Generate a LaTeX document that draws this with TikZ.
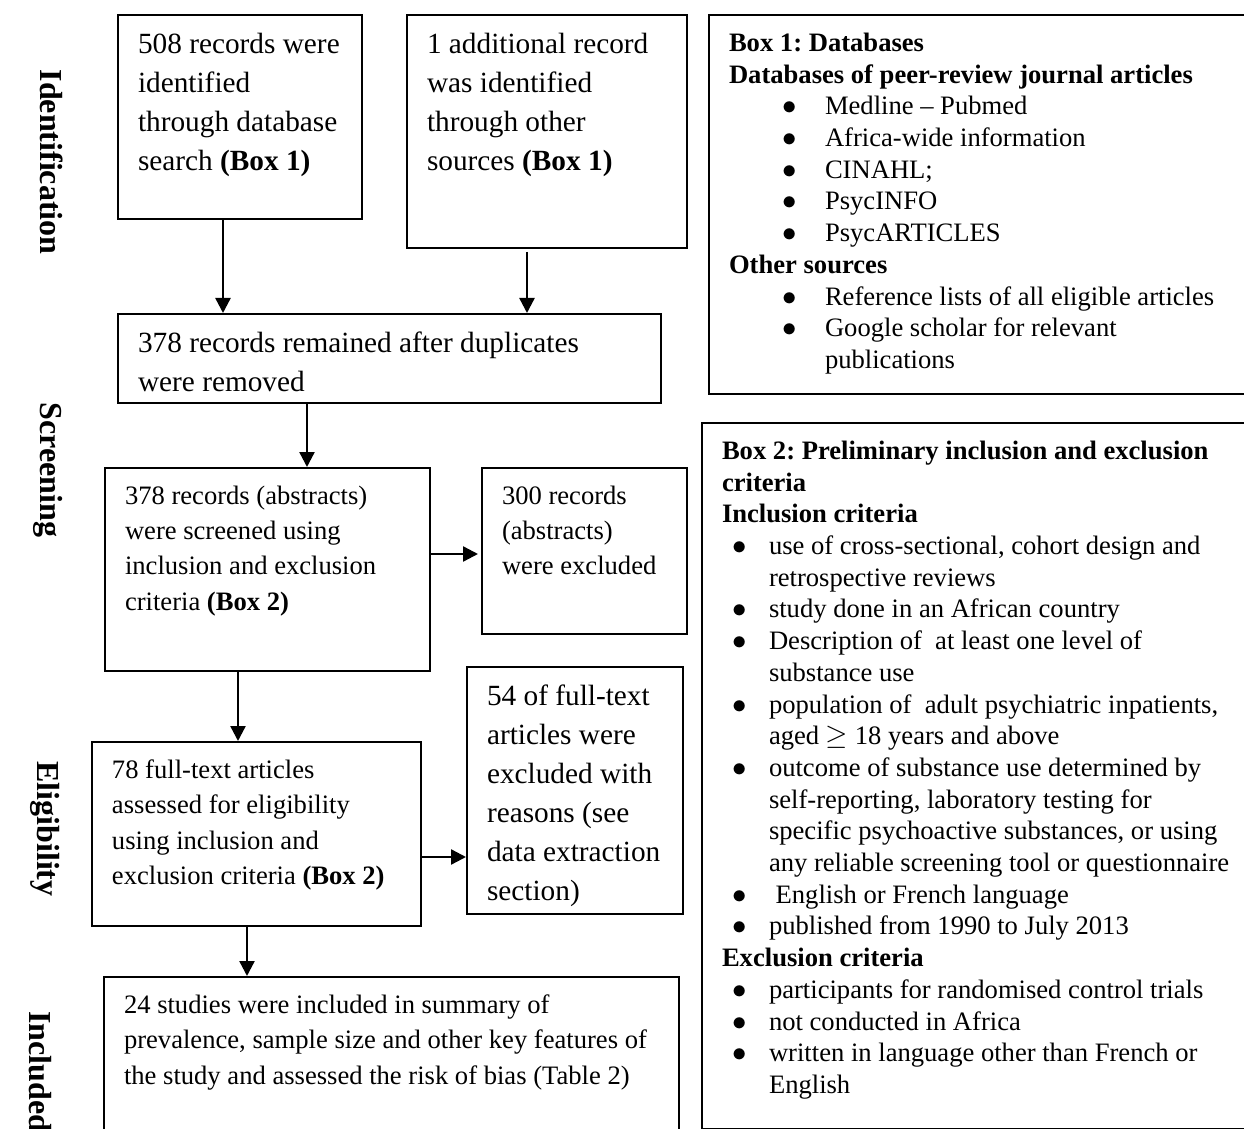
\documentclass[tikz,border=0pt]{standalone}
\usepackage{fontspec}
\setmainfont{Liberation Serif}
\usetikzlibrary{arrows.meta}
\frenchspacing

\newcommand{\bigsz}{\fontsize{14.65pt}{19.5pt}\selectfont}
\newcommand{\midsz}{\fontsize{13.3pt}{17.6pt}\selectfont}
\newcommand{\listsz}{\fontsize{13.3pt}{15.85pt}\selectfont}
\newcommand{\fbtext}[3]{\parbox[t][#2][t]{#1}{\raggedright #3}}
\newcommand{\dbitem}[1]{\par\hangindent=48pt\hangafter=1\noindent\makebox[48pt][l]{\hspace{26.7pt}$\bullet$}#1}
\newcommand{\critem}[1]{\par\hangindent=23.5pt\hangafter=1\noindent\makebox[23.5pt][l]{\hspace{5.2pt}$\bullet$}#1}

\begin{document}
\begin{tikzpicture}[x=0.5pt,y=-0.5pt,
  flow/.style={draw,line width=1pt,anchor=north west,inner xsep=10pt,inner ysep=9pt},
  arr/.style={line width=1.2pt,-{Triangle[length=7.5pt,width=7.5pt]}},
  stage/.style={rotate=-90,anchor=base,font=\fontsize{16pt}{19pt}\selectfont\bfseries}]
\useasboundingbox (0,0) rectangle (1244,1129);

% stages
\node[stage] (stgident) at (40,162) {Identification};
\node[stage] (stgscreen) at (40,470) {Screening};
\node[stage] (stgelig) at (37,829) {Eligibility};
\node[stage] (stgincl) at (30,1072) {Included};

% flow
\node[flow,font=\bigsz] (found) at (117,14) {\fbtext{102pt}{84pt}{508 records were\\identified\\through database\\search \textbf{(Box 1)}}};
\node[flow,font=\bigsz] (other) at (406,14) {\fbtext{120pt}{98.5pt}{1 additional record\\was identified\\through other\\sources \textbf{(Box 1)}}};
\node[flow,font=\bigsz] (dedup) at (117,313) {\fbtext{251.5pt}{26.5pt}{378 records remained after duplicates\\were removed}};
\node[flow,font=\midsz] (screened) at (104,467) {\fbtext{142.5pt}{83.5pt}{378 records (abstracts)\\were screened using\\inclusion and exclusion\\criteria \textbf{(Box 2)}}};
\node[flow,font=\midsz] (excl) at (481,467) {\fbtext{82.5pt}{65pt}{300 records\\(abstracts)\\were excluded}};
\node[flow,font=\midsz] (full) at (91,741) {\fbtext{144.5pt}{74pt}{78 full-text articles\\assessed for eligibility\\using inclusion and\\exclusion criteria \textbf{(Box 2)}}};
\node[flow,font=\bigsz] (fullexcl) at (466,666) {\fbtext{88pt}{105.5pt}{54 of full-text\\articles were\\excluded with\\reasons (see\\data extraction\\section)}};
\node[flow,font=\midsz] (studies) at (103,976) {\fbtext{267.5pt}{64pt}{24 studies were included in summary of\\prevalence, sample size and other key features of\\the study and assessed the risk of bias (Table 2)}};

% boxes
\node[flow,font=\listsz] (box1) at (708,14) {\fbtext{251pt}{171.5pt}{\textbf{Box 1: Databases}\\\textbf{Databases of peer-review journal articles}\dbitem{Medline -- Pubmed}\dbitem{Africa-wide information}\dbitem{CINAHL;}\dbitem{PsycINFO}\dbitem{PsycARTICLES}\par\textbf{Other sources}\dbitem{Reference lists of all eligible articles}\dbitem{Google scholar for relevant\newline publications}}};
\node[flow,font=\listsz] (box2) at (701,422) {\fbtext{260.5pt}{335pt}{\textbf{Box 2: Preliminary inclusion and exclusion\\criteria}\\\textbf{Inclusion criteria}\critem{use of cross-sectional, cohort design and\newline retrospective reviews}\critem{study done in an African country}\critem{Description of~ at least one level of\newline substance use}\critem{population of~ adult psychiatric inpatients,\newline aged $\geq$ 18 years and above}\critem{outcome of substance use determined by\newline self-reporting, laboratory testing for\newline specific psychoactive substances, or using\newline any reliable screening tool or questionnaire}\critem{\ English or French language}\critem{published from 1990 to July 2013}\par\textbf{Exclusion criteria}\critem{participants for randomised control trials}\critem{not conducted in Africa}\critem{written in language other than French or\newline English}}};

\draw[arr] ([xshift=-8.5pt]found.south) -- ([xshift=-8.5pt]found.south |- dedup.north);
\draw[arr,shorten <=1.5pt] ([xshift=-10pt]other.south) -- ([xshift=-10pt]other.south |- dedup.north);
\draw[arr] ([xshift=19.75pt]screened.north |- dedup.south) -- ([xshift=19.75pt]screened.north);
\draw[arr,shorten >=1.5pt] ([yshift=7.75pt]screened.east) -- ([yshift=7.75pt]screened.east -| excl.west);
\draw[arr] ([xshift=-9.25pt]full.north |- screened.south) -- ([xshift=-9.25pt]full.north);
\draw[arr] ([yshift=-11.5pt]full.east) -- ([yshift=-11.5pt]full.east -| fullexcl.west);
\draw[arr] ([xshift=-72.25pt]studies.north |- full.south) -- ([xshift=-72.25pt]studies.north);
\end{tikzpicture}
\end{document}
